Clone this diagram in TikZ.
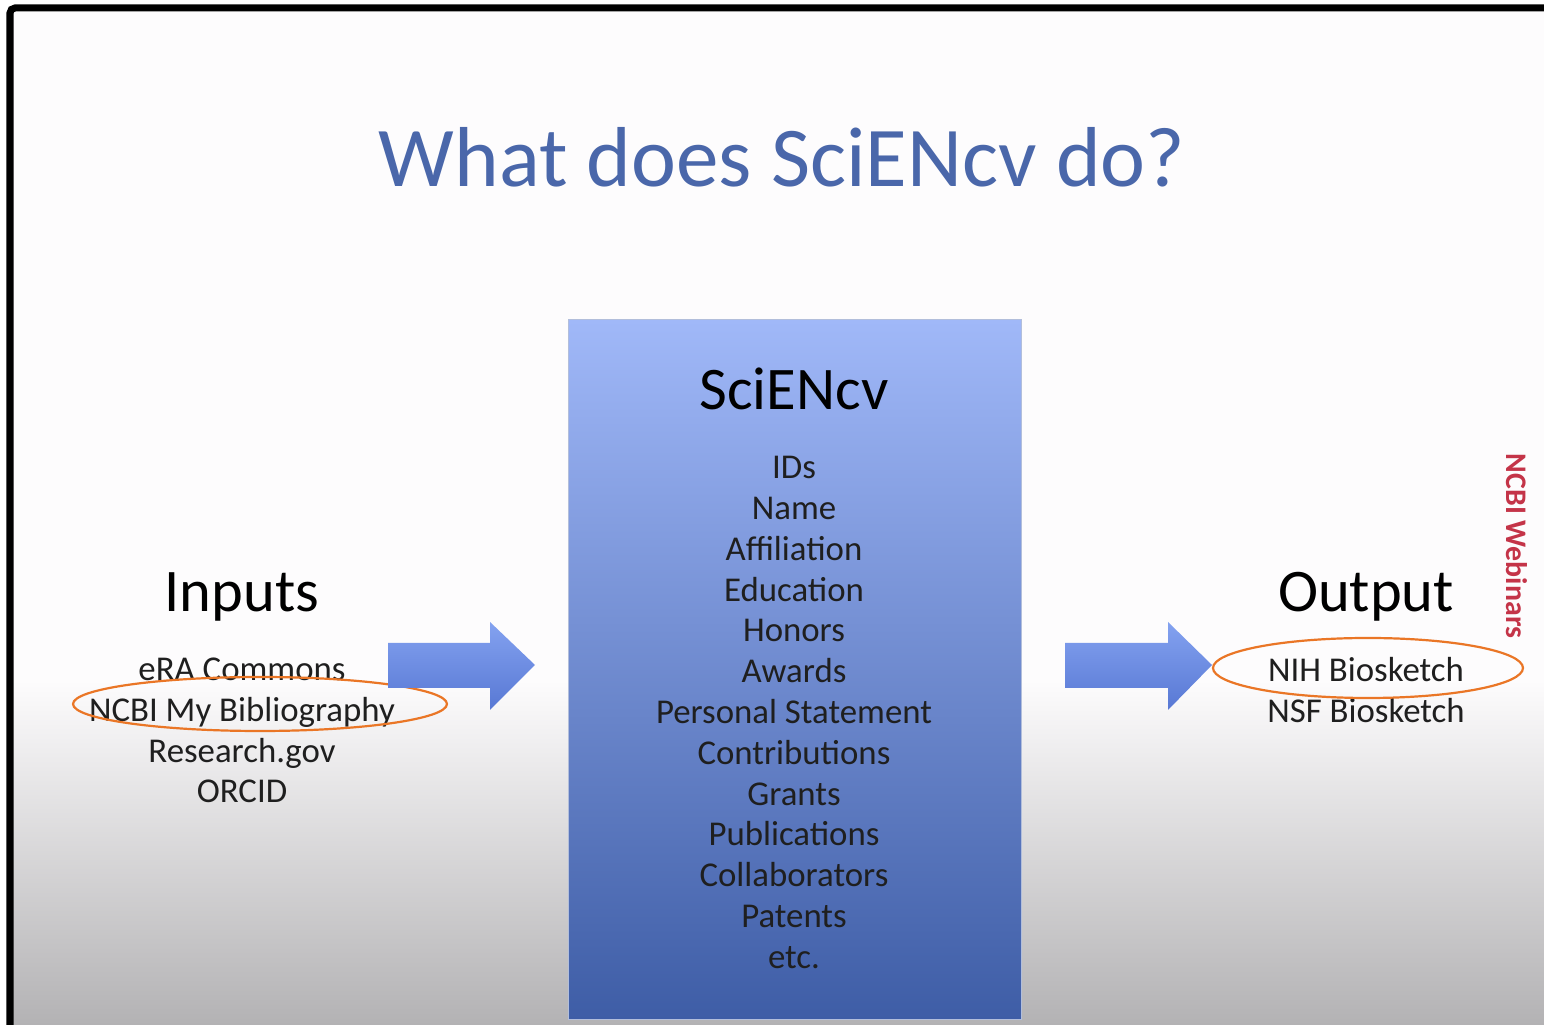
\documentclass[tikz,border=0pt]{standalone}
\usepackage{fontspec}
\setmainfont{Carlito}
\definecolor{titleblue}{RGB}{74,103,170}
\definecolor{boxtop}{RGB}{160,184,248}
\definecolor{boxbot}{RGB}{62,93,166}
\definecolor{arrowtop}{RGB}{132,162,240}
\definecolor{arrowbot}{RGB}{88,120,212}
\definecolor{ringorange}{RGB}{234,118,38}
\definecolor{webred}{RGB}{196,52,72}
\definecolor{slidewhite}{RGB}{253,252,253}
\definecolor{bggrey}{RGB}{179,178,180}
\begin{document}
\begin{tikzpicture}[x=0.01cm, y=-0.01cm,
    item/.style={anchor=base, font=\fontsize{9.9}{12}\selectfont, text=black!88},
    head/.style={anchor=base, font=\fontsize{17.2}{21}\selectfont, text=black},
    ring/.style={draw=ringorange, line width=0.022cm},
    bigarrow/.style={top color=arrowtop, bottom color=arrowbot}]
		%%%%% START %%%%%
		\useasboundingbox (0,0) rectangle (1544,1025);
		\fill[white] (0,0) rectangle (1544,1025);
		\fill[slidewhite] (10,8) rectangle (1544,1025);
		\shade[top color=slidewhite, bottom color=bggrey] (10,680) rectangle (1544,1025);
		
		\draw[line width=0.07cm, rounded corners=0.05cm] (10,1030) -- (10,8) -- (1550,8);
		
		\node[anchor=base, text=titleblue, font=\fontsize{24.2}{28}\selectfont] (title) at (782,187) {What does SciENcv do?};
		
		% the SciENcv box
		\shade[top color=boxtop, bottom color=boxbot, draw=boxbot!40!white, line width=0.01cm] (568,320) rectangle (1021,1020);
		\node[head] (sciencv) at (794,410) {SciENcv};
		\node[item] (ids) at (794,479) {IDs};
		\node[item] (name) at (794,520) {Name};
		\node[item] (affil) at (794,561) {Affiliation};
		\node[item] (educ) at (794,602) {Education};
		\node[item] (honors) at (794,642) {Honors};
		\node[item] (awards) at (794,683) {Awards};
		\node[item] (statement) at (794,724) {Personal Statement};
		\node[item] (contrib) at (794,765) {Contributions};
		\node[item] (grants) at (794,806) {Grants};
		\node[item] (pubs) at (794,846) {Publications};
		\node[item] (collab) at (794,887) {Collaborators};
		\node[item] (patents) at (794,928) {Patents};
		\node[item] (etc) at (794,969) {etc.};
		
		% inputs
		\node[head] (inputs) at (242,612) {Inputs};
		\node[item] (era) at (242,681) {eRA Commons};
		\node[item] (mybib) at (242,722) {NCBI My Bibliography};
		\node[item] (research) at (242,763) {Research.gov};
		\node[item] (orcid) at (242,803) {ORCID};
		\draw[ring] (260,704) ellipse [x radius=187, y radius=27];
		
		% output
		\node[head] (output) at (1366,612) {Output};
		\node[item] (nih) at (1366,682) {NIH Biosketch};
		\node[item] (nsf) at (1366,723) {NSF Biosketch};
		\draw[ring] (1368,668) ellipse [x radius=155, y radius=30];
		
		% arrows
		\shade[bigarrow] (388,643) -- (490,643) -- (490,622) -- (535,665) -- (490,710) -- (490,688) -- (388,688) -- cycle;
		\shade[bigarrow] (1065,643) -- (1168,643) -- (1168,622) -- (1212,665) -- (1168,710) -- (1168,688) -- (1065,688) -- cycle;
		
		\node[rotate=-90, text=webred, font=\fontsize{8.5}{10}\bfseries] (webinars) at (1517,546) {NCBI Webinars};
		%%%%% END %%%%%
	\end{tikzpicture}
\end{document}
